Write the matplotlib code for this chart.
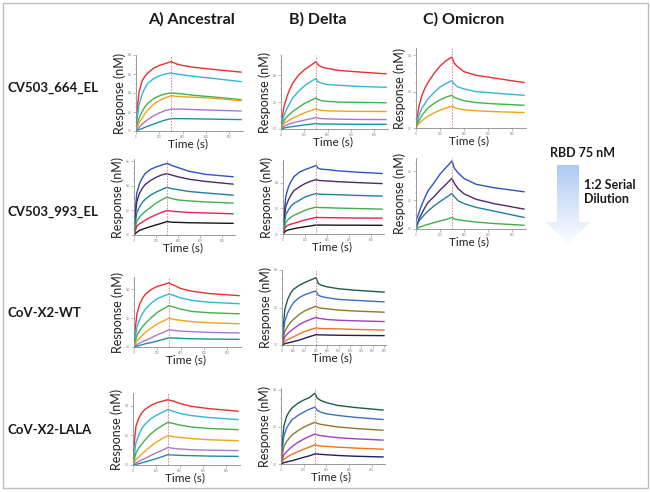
import numpy as np
import matplotlib.pyplot as plt
from matplotlib.patches import Rectangle, Polygon
from matplotlib.colors import LinearSegmentedColormap
from matplotlib.ticker import MultipleLocator

plt.rcParams['font.family'] = ['Lato', 'DejaVu Sans']

W, H = 650, 492

# time points (s)
t = [0, 10, 25, 50, 75, 100, 150, 200, 250, 300, 320, 350, 400, 500, 650, 900]

col_titles = ['A) Ancestral', 'B) Delta', 'C) Omicron']
row_labels = ['CV503_664_EL', 'CV503_993_EL', 'CoV-X2-WT', 'CoV-X2-LALA']

# colours of the dilution series (highest concentration first)
c_664 = ['#e8312f', '#2fb8d6', '#3db34a', '#f3a21c', '#a877d6', '#1f8f9f']
c_993 = ['#2d52c4', '#4b2a6b', '#1d7f9e', '#43ad4a', '#e2264f', '#161616']
c_x2d = ['#1c5c4a', '#3a6fc2', '#8c7a2c', '#a040c8', '#f0731e', '#1b1f6b']

# response (nM) per curve
anc_664 = [[0, .22, .40, .52, .575, .61, .66, .69, .71, .73, .72, .705, .69, .67, .65, .62],
           [0, .13, .27, .38, .45, .50, .55, .58, .60, .61, .605, .60, .59, .575, .555, .52],
           [0, .06, .13, .20, .25, .29, .34, .37, .39, .40, .40, .395, .39, .375, .36, .33],
           [0, .035, .08, .13, .18, .22, .28, .32, .35, .37, .368, .365, .36, .355, .345, .32],
           [0, .015, .035, .07, .095, .12, .16, .19, .215, .23, .23, .23, .23, .225, .22, .21],
           [0, .006, .014, .025, .038, .05, .072, .095, .115, .13, .13, .13, .13, .128, .125, .12]]
del_664 = [[0, .08, .165, .24, .295, .34, .40, .44, .47, .50, .475, .46, .45, .435, .425, .41],
           [0, .045, .10, .15, .19, .23, .28, .32, .35, .375, .35, .34, .33, .325, .317, .31],
           [0, .025, .06, .09, .11, .13, .16, .19, .21, .23, .218, .21, .205, .20, .198, .195],
           [0, .017, .04, .055, .068, .08, .10, .12, .135, .15, .143, .138, .135, .133, .131, .13],
           [0, .008, .02, .03, .038, .045, .056, .066, .075, .085, .08, .077, .075, .073, .071, .07],
           [0, .003, .007, .012, .015, .018, .024, .03, .035, .04, .038, .037, .037, .036, .035, .035]]
omi_664 = [[0, .06, .12, .18, .22, .25, .30, .34, .37, .39, .355, .335, .31, .29, .275, .25],
           [0, .03, .07, .11, .135, .16, .195, .225, .245, .26, .24, .225, .215, .20, .192, .18],
           [0, .017, .04, .07, .09, .11, .135, .155, .17, .18, .168, .16, .15, .14, .133, .125],
           [0, .01, .025, .04, .053, .065, .083, .098, .11, .12, .112, .106, .10, .095, .09, .085]]
anc_993 = [[0, .18, .34, .42, .465, .50, .535, .555, .57, .584, .577, .565, .55, .52, .495, .475],
           [0, .13, .27, .34, .38, .41, .445, .47, .49, .50, .495, .487, .475, .455, .437, .415],
           [0, .08, .18, .23, .265, .29, .325, .35, .37, .39, .383, .377, .37, .355, .343, .325],
           [0, .045, .11, .146, .17, .19, .225, .26, .286, .31, .303, .296, .286, .278, .27, .26],
           [0, .03, .07, .092, .105, .12, .145, .165, .184, .20, .197, .193, .19, .184, .18, .173],
           [0, .01, .022, .038, .046, .054, .069, .082, .095, .11, .107, .104, .103, .10, .098, .095]]
del_993 = [[0, .15, .295, .37, .415, .45, .485, .505, .52, .537, .515, .508, .505, .495, .486, .474],
           [0, .10, .216, .268, .31, .34, .37, .395, .413, .426, .421, .418, .416, .41, .404, .395],
           [0, .065, .15, .19, .22, .24, .265, .29, .305, .316, .313, .311, .31, .308, .303, .297],
           [0, .04, .09, .116, .133, .147, .166, .185, .20, .21, .208, .207, .206, .203, .20, .195],
           [0, .025, .058, .071, .078, .084, .097, .11, .12, .13, .129, .129, .128, .127, .125, .124],
           [0, .01, .024, .032, .037, .042, .05, .057, .063, .071, .07, .07, .07, .069, .069, .068]]
omi_993 = [[.03, .04, .057, .086, .11, .132, .16, .19, .213, .236, .21, .195, .175, .155, .143, .129],
           [0, .015, .036, .055, .075, .092, .112, .135, .155, .176, .158, .14, .122, .103, .088, .069],
           [0, .012, .028, .04, .052, .062, .08, .095, .109, .123, .112, .098, .088, .075, .062, .04],
           [0, .002, .006, .009, .013, .016, .022, .028, .033, .04, .035, .032, .029, .024, .019, .013]]
anc_wt = [[0, .12, .23, .30, .34, .368, .40, .42, .432, .444, .435, .425, .405, .386, .37, .356],
          [0, .06, .138, .195, .235, .264, .305, .335, .352, .368, .362, .355, .34, .322, .31, .30],
          [0, .033, .08, .115, .143, .166, .205, .24, .264, .287, .281, .275, .262, .246, .237, .23],
          [0, .016, .041, .064, .085, .103, .133, .16, .179, .20, .195, .19, .185, .175, .168, .161],
          [0, .006, .016, .028, .038, .046, .065, .085, .10, .12, .117, .114, .11, .106, .101, .097],
          [0, .002, .005, .011, .017, .023, .031, .042, .053, .064, .063, .062, .06, .057, .055, .053]]
del_wt = [[0, .09, .19, .243, .275, .296, .318, .333, .346, .359, .328, .318, .31, .30, .292, .282],
          [0, .055, .127, .171, .20, .225, .252, .268, .279, .288, .265, .258, .252, .243, .238, .23],
          [0, .03, .073, .10, .12, .136, .162, .182, .195, .207, .199, .196, .193, .186, .181, .175],
          [0, .017, .043, .061, .074, .086, .108, .124, .136, .148, .143, .14, .136, .132, .129, .125],
          [0, .008, .02, .029, .036, .043, .058, .072, .082, .091, .089, .088, .087, .086, .083, .08],
          [0, .003, .007, .011, .014, .018, .026, .036, .046, .055, .054, .054, .053, .052, .051, .05]]
anc_lala = [[0, .14, .26, .317, .35, .373, .40, .418, .43, .44, .435, .43, .415, .395, .38, .362],
            [0, .065, .148, .204, .245, .272, .31, .335, .355, .373, .368, .36, .348, .333, .32, .306],
            [0, .033, .081, .115, .14, .166, .208, .24, .265, .288, .284, .279, .269, .256, .246, .238],
            [0, .014, .036, .054, .073, .092, .125, .155, .178, .198, .194, .19, .186, .178, .17, .164],
            [0, .005, .013, .025, .034, .043, .063, .082, .099, .119, .115, .112, .108, .103, .10, .097],
            [0, .002, .004, .009, .014, .02, .031, .043, .056, .07, .068, .067, .065, .063, .06, .058]]
del_lala = [[0, .10, .204, .258, .285, .304, .328, .345, .358, .382, .355, .343, .331, .316, .305, .291],
            [0, .07, .149, .195, .22, .24, .262, .28, .295, .307, .29, .28, .271, .262, .252, .24],
            [0, .04, .095, .122, .142, .158, .18, .198, .213, .225, .219, .214, .209, .20, .192, .182],
            [0, .02, .049, .067, .082, .095, .117, .134, .149, .162, .157, .153, .149, .142, .136, .129],
            [0, .01, .025, .036, .045, .053, .067, .08, .091, .104, .10, .097, .095, .091, .086, .08],
            [0, .003, .007, .011, .015, .018, .027, .036, .044, .055, .054, .052, .05, .046, .042, .038]]

fig = plt.figure(figsize=(W / 100, H / 100), dpi=100)


def fx(x):
    return x / W


def fy(y):
    return 1 - y / H


# panel: data, colours, left px, px of t=300, bottom px, top px, ymax, ytick step, xtick step
panels = [
    (anc_664, c_664, 136, 171, 131, 55, .80, .2, 200),
    (del_664, c_664, 281, 316, 129, 55, .55, .2, 200),
    (omi_664, c_664[:4], 416, 452, 128, 48, .44, .2, 200),
    (anc_993, c_993, 134, 167, 235, 159, .62, .2, 200),
    (del_993, c_993, 283, 316, 234, 160, .58, .2, 200),
    (omi_993, c_993[:4], 416, 452, 229, 158, .246, .1, 200),
    (anc_wt, c_664, 134, 169, 347, 277, .485, .2, 200),
    (del_wt, c_x2d, 282, 316, 345, 270, .40, .2, 100),
    (anc_lala, c_664, 133, 168, 465, 393, .485, .2, 200),
    (del_lala, c_x2d, 281, 315, 464, 388, .41, .2, 200),
]

for i, (curves, cols, left, d300, bot, top, ymax, ystep, xstep) in enumerate(panels):
    wpx = (d300 - left) / 300 * 920
    ax = fig.add_axes([fx(left), fy(bot), wpx / W, (bot - top) / H])
    for vals, c in zip(curves, cols):
        ax.plot(t, vals, color=c, lw=1.0)
    ax.axvline(300, color='#e07878', lw=0.6, ls=(0, (2, 1.5)))
    ax.set_xlim(0, 920)
    ax.set_ylim(0, ymax)
    ax.xaxis.set_major_locator(MultipleLocator(xstep))
    ax.xaxis.set_minor_locator(MultipleLocator(50 if xstep == 200 else 25))
    ax.yaxis.set_major_locator(MultipleLocator(ystep))
    ax.yaxis.set_minor_locator(MultipleLocator(ystep / 4))
    for s in ['top', 'right']:
        ax.spines[s].set_visible(False)
    for s in ['left', 'bottom']:
        ax.spines[s].set_color('#8a8a8a')
        ax.spines[s].set_linewidth(0.6)
    ax.tick_params(which='major', length=2, width=0.4, color='#8a8a8a',
                   labelsize=2, labelcolor='#777777', pad=0.8)
    ax.tick_params(which='minor', length=1, width=0.3, color='#8a8a8a')
    ax.patch.set_alpha(0)
    fig.text(fx(left - 16), fy((bot + top) / 2), 'Response (nM)', rotation=90,
             ha='center', va='center', fontsize=9, color='#222222')
    fig.text(fx(left + wpx / 2 - 2), fy(bot + 13), 'Time (s)', ha='center', va='center',
             fontsize=8.5, color='#222222')

# column titles
for x, s in zip([191, 318, 464], col_titles):
    fig.text(fx(x), fy(19), s, ha='center', va='center', fontsize=11.5,
             fontweight='bold', color='#1a1a1a')

# row labels
for y, s in zip([88, 212, 313, 430], row_labels):
    fig.text(fx(7), fy(y), s, ha='left', va='center', fontsize=9.5,
             fontweight='bold', color='#1a1a1a')

# dilution note and gradient arrow
fig.text(fx(583), fy(153), 'RBD 75 nM', ha='center', va='center', fontsize=9,
         fontweight='bold', color='#1a1a1a')
fig.text(fx(584), fy(192), '1:2 Serial\nDilution', ha='left', va='center',
         fontsize=9, fontweight='bold', color='#1a1a1a', linespacing=1.25)

aa = fig.add_axes([fx(540), fy(248), 60 / W, 90 / H])
aa.set_xlim(540, 600)
aa.set_ylim(248, 158)
aa.axis('off')
grad = np.linspace(0, 1, 100).reshape(-1, 1)
fade = LinearSegmentedColormap.from_list('fade', ['#a6c4f3', '#d4e3f9', '#ffffff'])
img = aa.imshow(grad, extent=[540, 600, 248, 158], aspect='auto', cmap=fade, origin='upper')
arrow = Polygon([(557, 165), (579, 165), (579, 222), (590, 222), (568, 244),
                 (546, 222), (557, 222)], closed=True, fc='none', ec='none')
aa.add_patch(arrow)
img.set_clip_path(arrow)

# outer frame
fig.patches.append(Rectangle((fx(3), fy(488)), 645 / W, 485 / H, transform=fig.transFigure,
                             fill=False, ec='#bdbdbd', lw=1.0))

fig.savefig('out.png', dpi=100)
